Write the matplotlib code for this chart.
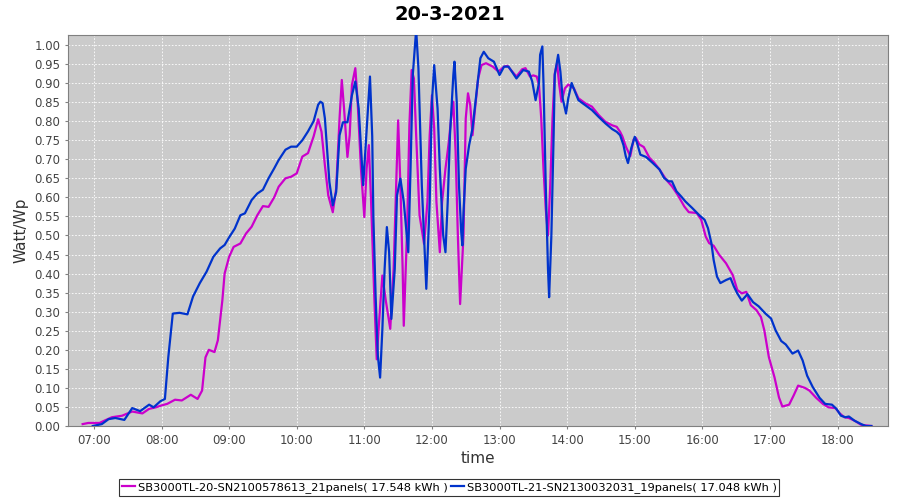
import matplotlib
matplotlib.use("Agg")
import matplotlib.pyplot as plt
from matplotlib.ticker import MultipleLocator, FuncFormatter

title = "20-3-2021"
series_names = ["SB3000TL-20-SN2100578613_21panels( 17.548 kWh )",
                "SB3000TL-21-SN2130032031_19panels( 17.048 kWh )"]
x_ticks = ["07:00", "08:00", "09:00", "10:00", "11:00", "12:00",
           "13:00", "14:00", "15:00", "16:00", "17:00", "18:00"]

m_times = ["06:50", "06:55", "07:00", "07:05", "07:10", "07:16", "07:25", "07:34", "07:43", "07:49",
           "07:55", "08:00", "08:05", "08:12", "08:18", "08:26", "08:32", "08:36", "08:39", "08:42",
           "08:47", "08:50", "08:54", "08:56", "09:00", "09:04", "09:10", "09:15", "09:20", "09:25",
           "09:30", "09:35", "09:40", "09:44", "09:50", "09:55", "10:00", "10:05", "10:10", "10:15",
           "10:19", "10:22", "10:25", "10:28", "10:32", "10:35", "10:38", "10:40", "10:42", "10:45",
           "10:47", "10:49", "10:52", "10:54", "10:57", "11:00", "11:02", "11:04", "11:06", "11:09",
           "11:11", "11:13", "11:16", "11:19", "11:23", "11:26", "11:30", "11:32", "11:34", "11:35",
           "11:38", "11:40", "11:42", "11:44", "11:46", "11:49", "11:53", "11:56", "11:58", "12:00",
           "12:02", "12:04", "12:07", "12:09", "12:12", "12:15", "12:17", "12:19", "12:21", "12:23",
           "12:25", "12:28", "12:30", "12:32", "12:34", "12:36", "12:38", "12:41", "12:44", "12:48",
           "12:54", "12:59", "13:04", "13:07", "13:15", "13:20", "13:23", "13:27", "13:30", "13:33",
           "13:35", "13:37", "13:39", "13:41", "13:43", "13:45", "13:47", "13:49", "13:51", "13:53",
           "13:55", "13:58", "14:01", "14:06", "14:10", "14:16", "14:22", "14:28", "14:34", "14:40",
           "14:44", "14:47", "14:49", "14:52", "14:56", "14:59", "15:01", "15:04", "15:08", "15:13",
           "15:17", "15:22", "15:28", "15:33", "15:38", "15:44", "15:48", "15:55", "15:59", "16:03",
           "16:06", "16:10", "16:15", "16:21", "16:27", "16:31", "16:35", "16:39", "16:43", "16:48",
           "16:52", "16:55", "16:59", "17:04", "17:08", "17:11", "17:17", "17:21", "17:25", "17:31",
           "17:35", "17:41", "17:47", "17:52", "17:58", "18:02", "18:06", "18:10", "18:15", "18:21",
           "18:30"]
m_vals = [0.005, 0.008, 0.008, 0.008, 0.015, 0.023, 0.027, 0.038, 0.033, 0.045,
          0.049, 0.054, 0.058, 0.069, 0.067, 0.082, 0.071, 0.093, 0.180, 0.200,
          0.194, 0.225, 0.330, 0.400, 0.444, 0.470, 0.479, 0.505, 0.523, 0.553,
          0.577, 0.575, 0.600, 0.628, 0.650, 0.654, 0.663, 0.707, 0.716, 0.760,
          0.805, 0.772, 0.684, 0.605, 0.561, 0.623, 0.807, 0.908, 0.833, 0.706,
          0.763, 0.895, 0.939, 0.855, 0.675, 0.548, 0.675, 0.737, 0.588, 0.325,
          0.175, 0.270, 0.395, 0.330, 0.255, 0.412, 0.802, 0.632, 0.412, 0.263,
          0.520, 0.790, 0.934, 0.912, 0.763, 0.553, 0.478, 0.588, 0.763, 0.868,
          0.781, 0.588, 0.456, 0.588, 0.675, 0.746, 0.807, 0.851, 0.720, 0.500,
          0.320, 0.500, 0.807, 0.873, 0.842, 0.763, 0.825, 0.912, 0.947, 0.952,
          0.943, 0.930, 0.943, 0.945, 0.917, 0.936, 0.939, 0.917, 0.920, 0.917,
          0.895, 0.807, 0.675, 0.570, 0.500, 0.632, 0.807, 0.925, 0.952, 0.895,
          0.851, 0.886, 0.896, 0.886, 0.860, 0.847, 0.838, 0.816, 0.798, 0.789,
          0.785, 0.772, 0.760, 0.734, 0.708, 0.752, 0.756, 0.739, 0.732, 0.704,
          0.692, 0.673, 0.646, 0.629, 0.607, 0.576, 0.561, 0.559, 0.541, 0.497,
          0.480, 0.473, 0.449, 0.427, 0.396, 0.357, 0.348, 0.352, 0.317, 0.304,
          0.286, 0.251, 0.181, 0.128, 0.075, 0.051, 0.056, 0.080, 0.106, 0.100,
          0.093, 0.074, 0.058, 0.049, 0.047, 0.033, 0.023, 0.021, 0.014, 0.003,
          0.000]

b_times = ["06:59", "07:07", "07:13", "07:19", "07:27", "07:34", "07:41", "07:49", "07:53", "07:59",
           "08:03", "08:06", "08:10", "08:16", "08:23", "08:28", "08:34", "08:40", "08:46", "08:52",
           "08:56", "09:00", "09:05", "09:10", "09:14", "09:20", "09:25", "09:30", "09:35", "09:40",
           "09:44", "09:50", "09:55", "10:00", "10:05", "10:10", "10:15", "10:19", "10:21", "10:23",
           "10:25", "10:29", "10:32", "10:35", "10:38", "10:41", "10:45", "10:49", "10:52", "10:55",
           "10:59", "11:03", "11:05", "11:07", "11:08", "11:10", "11:12", "11:14", "11:16", "11:18",
           "11:20", "11:22", "11:24", "11:27", "11:29", "11:32", "11:35", "11:39", "11:41", "11:43",
           "11:46", "11:48", "11:51", "11:55", "11:58", "12:00", "12:02", "12:05", "12:07", "12:10",
           "12:12", "12:14", "12:16", "12:19", "12:20", "12:22", "12:24", "12:26", "12:27", "12:28",
           "12:30", "12:33", "12:36", "12:40", "12:43", "12:46", "12:50", "12:55", "13:00", "13:04",
           "13:08", "13:15", "13:21", "13:26", "13:29", "13:32", "13:35", "13:36", "13:38", "13:39",
           "13:41", "13:43", "13:44", "13:46", "13:48", "13:49", "13:52", "13:54", "13:56", "13:59",
           "14:01", "14:04", "14:07", "14:10", "14:16", "14:22", "14:28", "14:34", "14:40", "14:44",
           "14:47", "14:50", "14:52", "14:54", "14:57", "15:00", "15:02", "15:05", "15:10", "15:16",
           "15:22", "15:26", "15:30", "15:33", "15:37", "15:41", "15:45", "15:51", "15:57", "16:02",
           "16:05", "16:08", "16:10", "16:13", "16:16", "16:21", "16:25", "16:28", "16:31", "16:35",
           "16:40", "16:45", "16:50", "16:56", "17:01", "17:05", "17:10", "17:14", "17:20", "17:25",
           "17:29", "17:33", "17:38", "17:44", "17:49", "17:55", "17:59", "18:03", "18:07", "18:10",
           "18:15", "18:21", "18:25", "18:30"]
b_vals = [0.000, 0.005, 0.018, 0.021, 0.016, 0.047, 0.039, 0.056, 0.049, 0.065,
          0.071, 0.180, 0.295, 0.297, 0.293, 0.340, 0.375, 0.405, 0.444, 0.466,
          0.475, 0.495, 0.518, 0.553, 0.558, 0.593, 0.610, 0.620, 0.650, 0.676,
          0.698, 0.725, 0.733, 0.733, 0.750, 0.773, 0.800, 0.843, 0.851, 0.847,
          0.807, 0.640, 0.579, 0.614, 0.763, 0.797, 0.797, 0.868, 0.904, 0.833,
          0.632, 0.825, 0.917, 0.760, 0.550, 0.342, 0.184, 0.127, 0.254, 0.412,
          0.522, 0.456, 0.281, 0.412, 0.605, 0.649, 0.588, 0.456, 0.675, 0.921,
          1.040, 0.939, 0.632, 0.360, 0.588, 0.851, 0.947, 0.833, 0.675, 0.500,
          0.456, 0.588, 0.763, 0.921, 0.956, 0.851, 0.632, 0.509, 0.474, 0.560,
          0.675, 0.737, 0.781, 0.886, 0.965, 0.982, 0.965, 0.956, 0.921, 0.943,
          0.943, 0.912, 0.934, 0.930, 0.904, 0.855, 0.900, 0.974, 0.996, 0.900,
          0.632, 0.412, 0.338, 0.500, 0.763, 0.921, 0.974, 0.930, 0.860, 0.820,
          0.860, 0.900, 0.877, 0.855, 0.842, 0.829, 0.811, 0.794, 0.779, 0.772,
          0.763, 0.737, 0.708, 0.690, 0.730, 0.759, 0.743, 0.712, 0.706, 0.690,
          0.673, 0.651, 0.642, 0.642, 0.616, 0.603, 0.589, 0.572, 0.554, 0.541,
          0.519, 0.480, 0.436, 0.392, 0.375, 0.383, 0.388, 0.366, 0.348, 0.329,
          0.346, 0.325, 0.314, 0.295, 0.282, 0.251, 0.223, 0.214, 0.190, 0.198,
          0.172, 0.132, 0.102, 0.074, 0.058, 0.056, 0.045, 0.027, 0.023, 0.025,
          0.014, 0.005, 0.000, 0.000]


def to_hours(s):
    h, m = s.split(":")
    return int(h) + int(m) / 60.0


mx = [to_hours(t) for t in m_times]
bx = [to_hours(t) for t in b_times]
tick_pos = [to_hours(t) for t in x_ticks]

fig = plt.figure(figsize=(9, 5), dpi=100)
ax = fig.add_axes([68 / 900, 1 - 426 / 500, (888 - 68) / 900, (426 - 35) / 500])
ax.set_facecolor("#cbcbcb")

ax.plot(mx, m_vals, color="#cc00cc", lw=1.6, label=series_names[0], zorder=3)
ax.plot(bx, b_vals, color="#0033cc", lw=1.6, label=series_names[1], zorder=4)

ax.set_xlim(to_hours("06:37"), 18.746)
ax.set_ylim(0, 1.026)
ax.yaxis.set_major_locator(MultipleLocator(0.05))
ax.yaxis.set_major_formatter(FuncFormatter(lambda v, p: f"{v:.2f}"))
ax.set_xticks(tick_pos)
ax.set_xticklabels(x_ticks)

ax.grid(True, color="white", linestyle=(0, (2, 2)), linewidth=0.6)
ax.set_axisbelow(True)
for s in ax.spines.values():
    s.set_color("#808080")
ax.tick_params(axis="both", colors="#808080", labelcolor="#444444", labelsize=8.5,
               length=2, width=0.8)

ax.set_ylabel("Watt/Wp", fontsize=11, color="#333333", labelpad=4)
ax.set_xlabel("time", fontsize=11, color="#333333", labelpad=3)
fig.text(0.5, 0.972, title, ha="center", va="center", fontsize=14, fontweight="bold")

leg = fig.legend(loc="center", bbox_to_anchor=(0.499, 0.025), ncol=2, fontsize=8.2,
                 frameon=True, fancybox=False, edgecolor="black", handlelength=1.2,
                 handletextpad=0.2, columnspacing=0.3, borderpad=0.25, borderaxespad=0)
leg.get_frame().set_linewidth(0.8)

fig.savefig("out.png", dpi=100)
